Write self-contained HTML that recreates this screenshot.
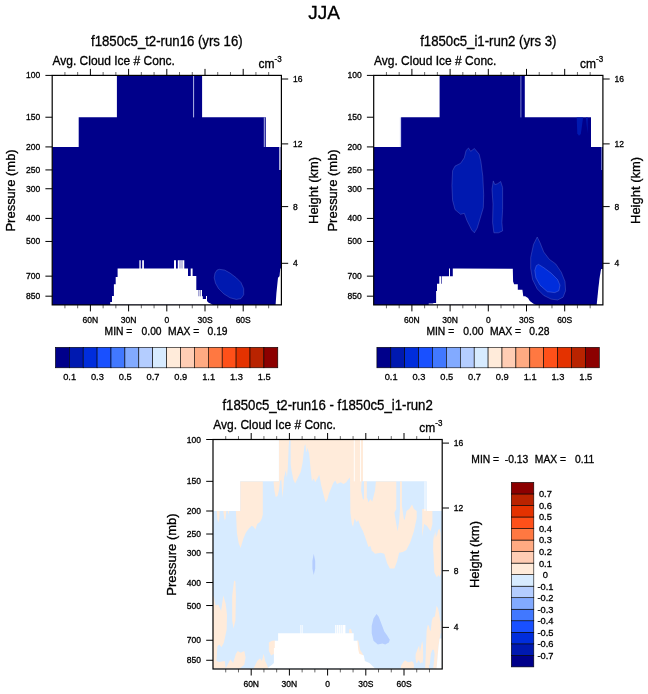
<!DOCTYPE html>
<html><head><meta charset="utf-8"><title>JJA</title>
<style>html,body{margin:0;padding:0;background:#fff}svg{display:block}text{font-family:"Liberation Sans",Arial,Helvetica,sans-serif;fill:#000;stroke:#000;stroke-width:0.3px}</style></head><body>
<svg width="648" height="694" viewBox="0 0 648 694">
<rect width="648" height="694" fill="#fff"/>
<text transform="translate(324.20 19.30)" font-size="19" text-anchor="middle">JJA</text>
<g shape-rendering="geometricPrecision">
<polygon points="116.9,75.4 202.1,75.4 202.1,117.2 265.8,117.2 265.8,146.9 281.4,146.9 281.4,304.9 52.2,304.9 52.2,146.9 78.7,146.9 78.7,117.2 116.9,117.2" fill="#00008a"/>
<polygon points="219.3,269.3 224.7,270.1 230.1,273.1 236.3,277.8 240.9,282.4 243.7,288.6 243.7,294.8 240.9,298.6 236.3,299.4 230.1,297.8 224.0,294.0 218.5,288.6 215.5,283.2 214.2,277.8 215.0,273.1 217.0,270.1" fill="#0019b0" stroke="#7f8fe0" stroke-width="0.3"/>
<polygon points="110.2,304.8 110.2,302.0 112.0,302.0 112.0,296.0 113.9,296.0 113.9,284.3 115.7,284.3 115.7,276.9 117.6,276.9 117.6,268.5 139.4,268.5 139.4,260.2 140.7,260.2 140.7,268.5 142.2,268.5 142.2,260.2 143.9,260.2 143.9,268.5 174.0,268.5 174.0,260.2 176.0,260.2 176.0,268.5 177.8,268.5 177.8,260.2 184.3,260.2 184.3,268.5 188.0,268.5 188.0,276.0 190.7,276.0 190.7,268.5 192.6,268.5 192.6,276.0 196.3,276.0 196.3,290.0 202.0,290.0 202.0,296.3 202.8,296.3 202.8,299.0 206.0,299.0 206.0,296.0 207.0,296.0 207.0,301.0 208.3,302.4 213.0,304.8" fill="#fff"/>
<polygon points="280.3,268.5 281.4,268.5 281.4,304.8 275.6,304.8 276.4,293.2 278.0,277.8 279.5,276.2" fill="#fff"/>
<path d="M193.6 75.4v42M264.3 117.4v29.6" stroke="#c4caf0" stroke-width="0.9"/>
<path d="M279.7 147v23M180 260.2v8.3M182 260.2v8.3M198.8 290v6.3M200.4 290v6.3" stroke="#00008a" stroke-width="0.5"/>
<path d="M279.95 147v23" stroke="#f6f7fd" stroke-width="1.3"/>
</g>
<rect x="52.2" y="75.4" width="229.2" height="229.5" fill="none" stroke="#000" stroke-width="1.2"/>
<path d="M64.93 75.40v-3.4M64.93 304.90v3.4M77.67 75.40v-3.4M77.67 304.90v3.4M103.13 75.40v-3.4M103.13 304.90v3.4M115.87 75.40v-3.4M115.87 304.90v3.4M141.33 75.40v-3.4M141.33 304.90v3.4M154.07 75.40v-3.4M154.07 304.90v3.4M179.53 75.40v-3.4M179.53 304.90v3.4M192.27 75.40v-3.4M192.27 304.90v3.4M217.73 75.40v-3.4M217.73 304.90v3.4M230.47 75.40v-3.4M230.47 304.90v3.4M255.93 75.40v-3.4M255.93 304.90v3.4M268.67 75.40v-3.4M268.67 304.90v3.4" stroke="#000" stroke-width="0.6" fill="none"/>
<path d="M90.40 75.40v-6.5M90.40 304.90v6.5M128.60 75.40v-6.5M128.60 304.90v6.5M166.80 75.40v-6.5M166.80 304.90v6.5M205.00 75.40v-6.5M205.00 304.90v6.5M243.20 75.40v-6.5M243.20 304.90v6.5M52.20 75.40h-6.8M52.20 117.23h-6.8M52.20 146.91h-6.8M52.20 169.93h-6.8M52.20 188.74h-6.8M52.20 218.42h-6.8M52.20 241.44h-6.8M52.20 276.15h-6.8M52.20 296.18h-6.8M281.40 79.00h6.8M281.40 143.90h6.8M281.40 206.60h6.8M281.40 263.30h6.8" stroke="#000" stroke-width="1" fill="none"/>
<text transform="translate(40.20 78.40)" font-size="8.5" text-anchor="end">100</text>
<text transform="translate(40.20 120.23)" font-size="8.5" text-anchor="end">150</text>
<text transform="translate(40.20 149.91)" font-size="8.5" text-anchor="end">200</text>
<text transform="translate(40.20 172.93)" font-size="8.5" text-anchor="end">250</text>
<text transform="translate(40.20 191.74)" font-size="8.5" text-anchor="end">300</text>
<text transform="translate(40.20 221.42)" font-size="8.5" text-anchor="end">400</text>
<text transform="translate(40.20 244.44)" font-size="8.5" text-anchor="end">500</text>
<text transform="translate(40.20 279.15)" font-size="8.5" text-anchor="end">700</text>
<text transform="translate(40.20 299.18)" font-size="8.5" text-anchor="end">850</text>
<text transform="translate(293.00 82.00)" font-size="8.5">16</text>
<text transform="translate(293.00 146.90)" font-size="8.5">12</text>
<text transform="translate(293.00 209.60)" font-size="8.5">8</text>
<text transform="translate(293.00 266.30)" font-size="8.5">4</text>
<text transform="translate(90.40 323.30)" font-size="8.5" text-anchor="middle">60N</text>
<text transform="translate(128.60 323.30)" font-size="8.5" text-anchor="middle">30N</text>
<text transform="translate(166.80 323.30)" font-size="8.5" text-anchor="middle">0</text>
<text transform="translate(205.00 323.30)" font-size="8.5" text-anchor="middle">30S</text>
<text transform="translate(243.20 323.30)" font-size="8.5" text-anchor="middle">60S</text>
<text transform="translate(52.50 65.10) scale(1 1.05)" font-size="12">Avg. Cloud Ice # Conc.</text>
<text transform="translate(258.50 67.80) scale(1 1.05)" font-size="12">cm<tspan font-size="8" dy="-5.5">-3</tspan></text>
<text transform="translate(166.80 45.70) scale(1 1.05)" font-size="13.2" text-anchor="middle">f1850c5_t2-run16 (yrs 16)</text>
<text transform="translate(15.20 190.45) rotate(-90) scale(1 1.05)" font-size="13" text-anchor="middle">Pressure (mb)</text>
<text transform="translate(318.20 190.45) rotate(-90) scale(1 1.05)" font-size="13" text-anchor="middle">Height (km)</text>
<text transform="translate(104.60 335.40)" font-size="10.3">MIN =</text>
<text transform="translate(161.60 335.40)" font-size="10.3" text-anchor="end">0.00</text>
<text transform="translate(168.10 335.40)" font-size="10.3">MAX =</text>
<text transform="translate(227.60 335.40)" font-size="10.3" text-anchor="end">0.19</text>
<rect x="55.40" y="347.3" width="13.90" height="20.5" fill="#00008a" stroke="#000" stroke-width="0.6"/>
<rect x="69.30" y="347.3" width="13.90" height="20.5" fill="#0019b0" stroke="#000" stroke-width="0.6"/>
<rect x="83.20" y="347.3" width="13.90" height="20.5" fill="#002ddc" stroke="#000" stroke-width="0.6"/>
<rect x="97.10" y="347.3" width="13.90" height="20.5" fill="#1950ff" stroke="#000" stroke-width="0.6"/>
<rect x="111.00" y="347.3" width="13.90" height="20.5" fill="#4178ff" stroke="#000" stroke-width="0.6"/>
<rect x="124.90" y="347.3" width="13.90" height="20.5" fill="#82aaff" stroke="#000" stroke-width="0.6"/>
<rect x="138.80" y="347.3" width="13.90" height="20.5" fill="#b4cdff" stroke="#000" stroke-width="0.6"/>
<rect x="152.70" y="347.3" width="13.90" height="20.5" fill="#d7ebff" stroke="#000" stroke-width="0.6"/>
<rect x="166.60" y="347.3" width="13.90" height="20.5" fill="#ffebda" stroke="#000" stroke-width="0.6"/>
<rect x="180.50" y="347.3" width="13.90" height="20.5" fill="#ffcdb4" stroke="#000" stroke-width="0.6"/>
<rect x="194.40" y="347.3" width="13.90" height="20.5" fill="#ffaa82" stroke="#000" stroke-width="0.6"/>
<rect x="208.30" y="347.3" width="13.90" height="20.5" fill="#ff7841" stroke="#000" stroke-width="0.6"/>
<rect x="222.20" y="347.3" width="13.90" height="20.5" fill="#ff5019" stroke="#000" stroke-width="0.6"/>
<rect x="236.10" y="347.3" width="13.90" height="20.5" fill="#e43200" stroke="#000" stroke-width="0.6"/>
<rect x="250.00" y="347.3" width="13.90" height="20.5" fill="#b92300" stroke="#000" stroke-width="0.6"/>
<rect x="263.90" y="347.3" width="13.90" height="20.5" fill="#8c0000" stroke="#000" stroke-width="0.6"/>
<text transform="translate(69.60 380.30) scale(0.95 1)" font-size="9.8" text-anchor="middle">0.1</text>
<text transform="translate(97.40 380.30) scale(0.95 1)" font-size="9.8" text-anchor="middle">0.3</text>
<text transform="translate(125.20 380.30) scale(0.95 1)" font-size="9.8" text-anchor="middle">0.5</text>
<text transform="translate(153.00 380.30) scale(0.95 1)" font-size="9.8" text-anchor="middle">0.7</text>
<text transform="translate(180.80 380.30) scale(0.95 1)" font-size="9.8" text-anchor="middle">0.9</text>
<text transform="translate(208.60 380.30) scale(0.95 1)" font-size="9.8" text-anchor="middle">1.1</text>
<text transform="translate(236.40 380.30) scale(0.95 1)" font-size="9.8" text-anchor="middle">1.3</text>
<text transform="translate(264.20 380.30) scale(0.95 1)" font-size="9.8" text-anchor="middle">1.5</text>
<g>
<polygon points="439.6,75.4 524.8,75.4 524.8,117.2 591.0,117.2 591.0,146.9 602.9,146.9 602.9,304.9 373.7,304.9 373.7,146.9 401.1,146.9 401.1,117.2 439.6,117.2" fill="#00008a"/>
<polygon points="468.5,148.0 470.7,151.3 474.4,148.5 479.1,154.1 480.9,161.5 482.8,176.3 483.7,194.8 483.3,207.8 480.0,218.9 477.2,228.1 474.4,232.8 471.7,230.0 467.0,220.7 464.3,213.3 460.6,214.3 455.0,209.6 452.6,200.4 451.9,185.6 452.6,170.7 455.0,166.1 460.6,163.3 464.3,157.8 466.1,150.4" fill="#0019b0" stroke="#7f8fe0" stroke-width="0.3"/>
<polygon points="493.3,180.9 494.8,184.6 497.6,183.7 500.7,181.5 502.6,187.4 502.6,209.6 501.9,222.6 502.6,230.9 498.5,232.8 493.9,232.8 492.6,222.6 493.0,204.1 492.0,189.3" fill="#0019b0" stroke="#7f8fe0" stroke-width="0.3"/>
<polygon points="537.2,237.0 540.0,242.6 543.7,251.9 549.3,259.3 555.7,263.9 561.3,272.2 565.0,281.5 565.6,290.7 563.1,297.2 557.6,300.0 551.1,299.1 543.7,295.4 537.2,288.9 532.6,279.6 530.7,268.5 530.7,257.4 533.5,244.4" fill="#0019b0" stroke="#7f8fe0" stroke-width="0.3"/>
<polygon points="538.5,264.4 543.7,267.6 551.1,273.1 557.6,279.6 560.0,285.2 558.9,290.7 554.8,292.6 547.4,291.7 540.0,285.2 535.9,277.8 534.8,270.4 536.3,265.7" fill="#002ddc" stroke="#8fa0f0" stroke-width="0.3"/>
<polygon points="576.7,117.4 583.1,117.4 580.8,134.0 579.0,135.8 577.3,133.5" fill="#0019b0"/>
<polygon points="586,117.4 587.7,117.4 587.5,133.5" fill="#0019b0"/>
<polygon points="428.7,304.8 428.7,303.5 433.3,303.5 433.3,303.0 436.1,303.0 436.1,291.0 437.0,291.0 437.0,283.7 439.3,283.7 439.3,276.3 441.1,276.3 441.1,283.7 441.7,283.7 441.7,276.3 449.0,276.3 449.0,268.5 450.0,268.5 450.0,276.3 452.8,276.3 452.8,268.5 512.8,268.7 513.1,281.5 514.1,284.3 517.8,284.3 517.8,289.8 522.4,289.8 523.3,296.3 525.2,296.3 528.0,298.1 529.8,300.9 533.5,303.7 536.0,304.8" fill="#fff"/>
<polygon points="601.1,268.9 603.2,268.9 603.2,304.8 596.7,304.8 598.3,288.9 599.6,277.8" fill="#fff"/>
<path d="M520.9 75v42.4M400.4 117.4v29.6" stroke="#aab4e6" stroke-width="0.7"/>
<path d="M601.6 147v23" stroke="#8c96d8" stroke-width="0.8"/>
</g>
<rect x="373.7" y="75.4" width="229.2" height="229.5" fill="none" stroke="#000" stroke-width="1.2"/>
<path d="M386.43 75.40v-3.4M386.43 304.90v3.4M399.17 75.40v-3.4M399.17 304.90v3.4M424.63 75.40v-3.4M424.63 304.90v3.4M437.37 75.40v-3.4M437.37 304.90v3.4M462.83 75.40v-3.4M462.83 304.90v3.4M475.57 75.40v-3.4M475.57 304.90v3.4M501.03 75.40v-3.4M501.03 304.90v3.4M513.77 75.40v-3.4M513.77 304.90v3.4M539.23 75.40v-3.4M539.23 304.90v3.4M551.97 75.40v-3.4M551.97 304.90v3.4M577.43 75.40v-3.4M577.43 304.90v3.4M590.17 75.40v-3.4M590.17 304.90v3.4" stroke="#000" stroke-width="0.6" fill="none"/>
<path d="M411.90 75.40v-6.5M411.90 304.90v6.5M450.10 75.40v-6.5M450.10 304.90v6.5M488.30 75.40v-6.5M488.30 304.90v6.5M526.50 75.40v-6.5M526.50 304.90v6.5M564.70 75.40v-6.5M564.70 304.90v6.5M373.70 75.40h-6.8M373.70 117.23h-6.8M373.70 146.91h-6.8M373.70 169.93h-6.8M373.70 188.74h-6.8M373.70 218.42h-6.8M373.70 241.44h-6.8M373.70 276.15h-6.8M373.70 296.18h-6.8M602.90 79.00h6.8M602.90 143.90h6.8M602.90 206.60h6.8M602.90 263.30h6.8" stroke="#000" stroke-width="1" fill="none"/>
<text transform="translate(361.70 78.40)" font-size="8.5" text-anchor="end">100</text>
<text transform="translate(361.70 120.23)" font-size="8.5" text-anchor="end">150</text>
<text transform="translate(361.70 149.91)" font-size="8.5" text-anchor="end">200</text>
<text transform="translate(361.70 172.93)" font-size="8.5" text-anchor="end">250</text>
<text transform="translate(361.70 191.74)" font-size="8.5" text-anchor="end">300</text>
<text transform="translate(361.70 221.42)" font-size="8.5" text-anchor="end">400</text>
<text transform="translate(361.70 244.44)" font-size="8.5" text-anchor="end">500</text>
<text transform="translate(361.70 279.15)" font-size="8.5" text-anchor="end">700</text>
<text transform="translate(361.70 299.18)" font-size="8.5" text-anchor="end">850</text>
<text transform="translate(614.50 82.00)" font-size="8.5">16</text>
<text transform="translate(614.50 146.90)" font-size="8.5">12</text>
<text transform="translate(614.50 209.60)" font-size="8.5">8</text>
<text transform="translate(614.50 266.30)" font-size="8.5">4</text>
<text transform="translate(411.90 323.30)" font-size="8.5" text-anchor="middle">60N</text>
<text transform="translate(450.10 323.30)" font-size="8.5" text-anchor="middle">30N</text>
<text transform="translate(488.30 323.30)" font-size="8.5" text-anchor="middle">0</text>
<text transform="translate(526.50 323.30)" font-size="8.5" text-anchor="middle">30S</text>
<text transform="translate(564.70 323.30)" font-size="8.5" text-anchor="middle">60S</text>
<text transform="translate(374.00 65.10) scale(1 1.05)" font-size="12">Avg. Cloud Ice # Conc.</text>
<text transform="translate(580.00 67.80) scale(1 1.05)" font-size="12">cm<tspan font-size="8" dy="-5.5">-3</tspan></text>
<text transform="translate(488.30 45.70) scale(1 1.05)" font-size="13.2" text-anchor="middle">f1850c5_i1-run2 (yrs 3)</text>
<text transform="translate(336.70 190.45) rotate(-90) scale(1 1.05)" font-size="13" text-anchor="middle">Pressure (mb)</text>
<text transform="translate(639.70 190.45) rotate(-90) scale(1 1.05)" font-size="13" text-anchor="middle">Height (km)</text>
<text transform="translate(426.40 335.40)" font-size="10.3">MIN =</text>
<text transform="translate(483.40 335.40)" font-size="10.3" text-anchor="end">0.00</text>
<text transform="translate(489.90 335.40)" font-size="10.3">MAX =</text>
<text transform="translate(549.40 335.40)" font-size="10.3" text-anchor="end">0.28</text>
<rect x="376.90" y="347.3" width="13.90" height="20.5" fill="#00008a" stroke="#000" stroke-width="0.6"/>
<rect x="390.80" y="347.3" width="13.90" height="20.5" fill="#0019b0" stroke="#000" stroke-width="0.6"/>
<rect x="404.70" y="347.3" width="13.90" height="20.5" fill="#002ddc" stroke="#000" stroke-width="0.6"/>
<rect x="418.60" y="347.3" width="13.90" height="20.5" fill="#1950ff" stroke="#000" stroke-width="0.6"/>
<rect x="432.50" y="347.3" width="13.90" height="20.5" fill="#4178ff" stroke="#000" stroke-width="0.6"/>
<rect x="446.40" y="347.3" width="13.90" height="20.5" fill="#82aaff" stroke="#000" stroke-width="0.6"/>
<rect x="460.30" y="347.3" width="13.90" height="20.5" fill="#b4cdff" stroke="#000" stroke-width="0.6"/>
<rect x="474.20" y="347.3" width="13.90" height="20.5" fill="#d7ebff" stroke="#000" stroke-width="0.6"/>
<rect x="488.10" y="347.3" width="13.90" height="20.5" fill="#ffebda" stroke="#000" stroke-width="0.6"/>
<rect x="502.00" y="347.3" width="13.90" height="20.5" fill="#ffcdb4" stroke="#000" stroke-width="0.6"/>
<rect x="515.90" y="347.3" width="13.90" height="20.5" fill="#ffaa82" stroke="#000" stroke-width="0.6"/>
<rect x="529.80" y="347.3" width="13.90" height="20.5" fill="#ff7841" stroke="#000" stroke-width="0.6"/>
<rect x="543.70" y="347.3" width="13.90" height="20.5" fill="#ff5019" stroke="#000" stroke-width="0.6"/>
<rect x="557.60" y="347.3" width="13.90" height="20.5" fill="#e43200" stroke="#000" stroke-width="0.6"/>
<rect x="571.50" y="347.3" width="13.90" height="20.5" fill="#b92300" stroke="#000" stroke-width="0.6"/>
<rect x="585.40" y="347.3" width="13.90" height="20.5" fill="#8c0000" stroke="#000" stroke-width="0.6"/>
<text transform="translate(391.10 380.30) scale(0.95 1)" font-size="9.8" text-anchor="middle">0.1</text>
<text transform="translate(418.90 380.30) scale(0.95 1)" font-size="9.8" text-anchor="middle">0.3</text>
<text transform="translate(446.70 380.30) scale(0.95 1)" font-size="9.8" text-anchor="middle">0.5</text>
<text transform="translate(474.50 380.30) scale(0.95 1)" font-size="9.8" text-anchor="middle">0.7</text>
<text transform="translate(502.30 380.30) scale(0.95 1)" font-size="9.8" text-anchor="middle">0.9</text>
<text transform="translate(530.10 380.30) scale(0.95 1)" font-size="9.8" text-anchor="middle">1.1</text>
<text transform="translate(557.90 380.30) scale(0.95 1)" font-size="9.8" text-anchor="middle">1.3</text>
<text transform="translate(585.70 380.30) scale(0.95 1)" font-size="9.8" text-anchor="middle">1.5</text>
<g>
<polygon points="278.9,439.5 363.0,439.5 363.0,481.3 426.6,481.3 426.6,511.0 442.2,511.0 442.2,669.0 213.0,669.0 213.0,511.0 240.2,511.0 240.2,481.3 278.9,481.3" fill="#d7ebff"/>
<clipPath id="c3"><polygon points="278.9,439.5 363.0,439.5 363.0,481.3 426.6,481.3 426.6,511.0 442.2,511.0 442.2,669.0 213.0,669.0 213.0,511.0 240.2,511.0 240.2,481.3 278.9,481.3"/></clipPath>
<g clip-path="url(#c3)">
<polygon points="235.9,510.9 240.2,510.9 240.2,481.3 262.8,481.3 262.8,514.6 261.9,518.3 260.0,522.0 257.2,523.9 255.4,529.4 253.5,526.7 251.7,525.7 248.9,528.5 246.1,532.2 243.3,538.7 240.6,548.0 238.7,543.3 236.9,533.1" fill="#ffebda"/>
<polygon points="216.7,510.9 219.6,510.9 219.3,518.3 218.3,522.4 217.4,519.3" fill="#ffebda"/>
<polygon points="223.3,510.9 226.3,510.9 225.6,518.3 224.8,520.6 224.1,517.4" fill="#ffebda"/>
<polygon points="227.8,510.9 229.1,510.9 228.5,515.0" fill="#ffebda"/>
<polygon points="278.9,438.7 278.9,481.3 273.5,481.3 274.4,490.6 275.7,497.0 277.6,496.1 278.9,490.6 280.0,481.3 281.3,479.4 282.0,490.6 282.6,498.0 283.3,488.7 284.1,477.6 285.9,470.2 286.9,477.6 287.8,468.3 288.7,446.1 289.3,440.2 290.6,440.2 290.7,464.6 291.5,470.2 293.3,479.4 295.2,483.5 297.0,479.4 300.7,472.0 302.6,462.8 304.4,446.1 305.4,444.3 306.3,452.6 307.6,448.0 309.1,453.5 310.9,472.0 311.9,481.3 313.7,478.5 315.2,482.2 317.4,478.5 319.3,474.8 321.1,485.0 323.9,496.1 325.7,502.6 327.6,498.9 328.7,494.3 333.3,483.1 335.2,480.4 337.0,484.1 340.7,482.2 343.5,484.1 346.3,482.2 348.1,479.4 350.0,477.6 350.4,512.8 351.9,523.9 353.1,526.7 354.6,518.3 356.5,522.0 358.3,520.2 360.2,525.7 363.0,531.3 365.7,538.7 368.5,547.0 370.4,546.1 372.2,551.7 373.5,555.0 371.3,550.0 375.0,553.7 380.6,552.8 384.3,553.7 387.0,563.0 389.8,568.5 394.4,568.5 397.2,561.1 399.1,552.8 402.8,551.9 406.5,550.0 406.5,549.8 410.2,542.4 413.9,531.3 416.7,518.3 416.7,510.9 413.9,509.1 412.0,504.4 409.3,509.1 406.5,510.9 404.6,520.2 403.7,518.3 401.9,505.4 401.9,481.3 400.0,481.3 400.0,509.1 399.1,522.0 397.6,531.3 396.3,523.9 394.4,512.8 396.3,509.1 396.3,481.3 375.9,481.3 375.0,490.6 372.2,501.7 370.4,498.9 368.5,502.6 367.2,498.0 364.8,498.0 363.0,499.8 361.1,490.6 361.7,481.3 363.0,481.3 363.0,438.7" fill="#ffebda"/>
<polygon points="364.0,481 366.8,481 366.8,501 364.0,501" fill="#ffebda"/>
<polygon points="422.2,509.1 422.2,536.9 424.1,523.9 426.9,525.7 430.6,531.3 432.4,523.9 432.4,510.9 426.5,510.9 426.5,509.1" fill="#ffebda"/>
<polygon points="433.0,555.0 433.3,540.6 434.3,533.1 435.0,538.7 435.7,531.3 436.7,536.9 438.0,530.4 439.4,528.5 440.6,533.1 440.9,555.0 440.9,550.0 440.9,574.1 439.4,576.9 438.3,575.0 437.0,577.4 435.7,575.0 434.3,572.2 433.3,550.0" fill="#ffebda"/>
<polygon points="436.5,605.7 438.0,608.3 439.1,613.5 440.1,620.7 440.6,633.2 439.6,638.4 438.6,645.6 437.5,658.1 436.5,668.5 433.2,668.5 433.9,662.2 434.6,653.9 433.9,649.8 432.3,649.8 430.8,653.9 429.8,664.3 429.6,665.1 428.8,665.1 429.2,668.5 425.1,668.5 425.6,658.1 426.1,643.6 426.6,631.1 427.7,624.9 428.7,625.4 429.8,630.1 430.8,631.1 431.8,620.7 432.9,617.6 434.9,616.6 436.0,609.3" fill="#ffebda"/>
<polygon points="415.7,653.9 417.3,649.8 419.1,645.6 419.9,651.9 420.9,646.7 422.2,641.0 423.0,645.6 423.2,658.1 422.5,663.3 421.5,662.2 420.4,663.8 419.4,661.2 418.3,660.2 417.3,662.8 416.3,663.3 415.5,658.1" fill="#ffebda"/>
<polygon points="400.7,668.5 401.2,665.4 403.3,662.2 405.1,660.2 406.4,661.2 408.0,662.2 410.0,662.0 411.6,661.2 413.2,662.2 413.9,664.3 413.9,668.5" fill="#ffebda"/>
<path d="M441 621v12" stroke="#ffebda" stroke-width="0.8"/>
<polygon points="376.5,613.9 373.5,618.5 371.7,625.9 371.7,633.3 373.5,640.7 377.8,644.4 382.4,643.5 385.2,644.4 388.9,642.6 389.8,639.8 387.0,635.2 384.3,631.5 381.5,624.1 378.7,616.7" fill="#b4cdff"/>
<polygon points="313.7,553.7 312.4,561.1 312.4,568.5 313.7,575.0 315.2,568.5 315.2,561.1" fill="#b4cdff"/>
<polygon points="211.9,596.3 213.7,596.3 215.6,605.6 218.3,604.6 221.1,611.1 223.3,595.4 225.7,603.7 227.0,614.8 226.7,629.6 223.9,642.6 221.5,647.2 219.3,644.4 217.4,646.3 216.5,661.1 219.3,662.0 224.8,661.1 225.7,668.5 211.9,668.5" fill="#ffebda"/>
<polygon points="234.1,580.6 232.2,596.3 232.2,620.4 233.5,628.7 235.4,620.4 235.9,596.3 235.4,581.5" fill="#ffebda"/>
<polygon points="225.7,668.5 230.4,659.3 233.1,663.0 235.9,653.7 237.8,650.9 240.6,652.8 244.3,650.9 245.6,657.4 244.3,664.8 239.6,668.5" fill="#ffebda"/>
<polygon points="253.5,668.5 257.2,661.1 260.0,658.3 261.9,661.1 263.7,653.7 265.2,661.1 267.4,665.7 268.3,668.5" fill="#ffebda"/>
<polygon points="268.9,642.6 272.0,640.7 275.2,640.4 275.2,648.1 274.3,653.7 271.1,655.6 268.9,650.9" fill="#ffebda"/>
<polygon points="349.1,629.6 350.9,628.7 352.2,633.3 349.1,633.3" fill="#ffebda"/>
<polygon points="356.9,640.4 358.3,640.4 360.2,650.0 363.0,654.6 364.8,661.1 357.4,661.1" fill="#ffebda"/>
</g>
<polygon points="268.3,668.5 268.3,667.6 272.0,664.8 273.9,663.0 273.9,648.1 274.8,648.1 274.8,640.7 278.1,640.7 278.1,633.3 300.4,633.3 300.4,625.0 301.3,625.0 301.3,633.3 301.9,633.3 301.9,625.0 302.6,625.0 302.6,633.3 330.0,633.3 330.0,633.3 335.2,633.3 335.2,625.0 345.4,625.0 345.4,633.3 353.7,633.3 353.7,640.7 357.4,640.7 358.3,650.0 359.3,653.7 363.9,655.6 364.8,661.1 369.4,663.0 374.1,667.6 375.0,668.5" fill="#fff"/>
<polygon points="439.6,638.4 441.9,638.4 441.9,669.0 436.5,669.0 437.5,658.1 438.6,645.6" fill="#fff"/>
<path d="M336.6 625v8.3M338.4 625v8.3M340.3 625v8.3M342.2 625v8.3" stroke="#d7ebff" stroke-width="0.6"/>
<path d="M354.3 439v42.4M360.5 439v42.4M425 481.4v29.6" stroke="#fff" stroke-width="0.9"/>
</g>
<rect x="213.0" y="439.5" width="229.2" height="229.5" fill="none" stroke="#000" stroke-width="1.2"/>
<path d="M225.73 439.50v-3.4M225.73 669.00v3.4M238.47 439.50v-3.4M238.47 669.00v3.4M263.93 439.50v-3.4M263.93 669.00v3.4M276.67 439.50v-3.4M276.67 669.00v3.4M302.13 439.50v-3.4M302.13 669.00v3.4M314.87 439.50v-3.4M314.87 669.00v3.4M340.33 439.50v-3.4M340.33 669.00v3.4M353.07 439.50v-3.4M353.07 669.00v3.4M378.53 439.50v-3.4M378.53 669.00v3.4M391.27 439.50v-3.4M391.27 669.00v3.4M416.73 439.50v-3.4M416.73 669.00v3.4M429.47 439.50v-3.4M429.47 669.00v3.4" stroke="#000" stroke-width="0.6" fill="none"/>
<path d="M251.20 439.50v-6.5M251.20 669.00v6.5M289.40 439.50v-6.5M289.40 669.00v6.5M327.60 439.50v-6.5M327.60 669.00v6.5M365.80 439.50v-6.5M365.80 669.00v6.5M404.00 439.50v-6.5M404.00 669.00v6.5M213.00 439.50h-6.8M213.00 481.33h-6.8M213.00 511.01h-6.8M213.00 534.03h-6.8M213.00 552.84h-6.8M213.00 582.52h-6.8M213.00 605.54h-6.8M213.00 640.25h-6.8M213.00 660.28h-6.8M442.20 443.10h6.8M442.20 508.00h6.8M442.20 570.70h6.8M442.20 627.40h6.8" stroke="#000" stroke-width="1" fill="none"/>
<text transform="translate(201.00 442.50)" font-size="8.5" text-anchor="end">100</text>
<text transform="translate(201.00 484.33)" font-size="8.5" text-anchor="end">150</text>
<text transform="translate(201.00 514.01)" font-size="8.5" text-anchor="end">200</text>
<text transform="translate(201.00 537.03)" font-size="8.5" text-anchor="end">250</text>
<text transform="translate(201.00 555.84)" font-size="8.5" text-anchor="end">300</text>
<text transform="translate(201.00 585.52)" font-size="8.5" text-anchor="end">400</text>
<text transform="translate(201.00 608.54)" font-size="8.5" text-anchor="end">500</text>
<text transform="translate(201.00 643.25)" font-size="8.5" text-anchor="end">700</text>
<text transform="translate(201.00 663.28)" font-size="8.5" text-anchor="end">850</text>
<text transform="translate(453.80 446.10)" font-size="8.5">16</text>
<text transform="translate(453.80 511.00)" font-size="8.5">12</text>
<text transform="translate(453.80 573.70)" font-size="8.5">8</text>
<text transform="translate(453.80 630.40)" font-size="8.5">4</text>
<text transform="translate(251.20 687.40)" font-size="8.5" text-anchor="middle">60N</text>
<text transform="translate(289.40 687.40)" font-size="8.5" text-anchor="middle">30N</text>
<text transform="translate(327.60 687.40)" font-size="8.5" text-anchor="middle">0</text>
<text transform="translate(365.80 687.40)" font-size="8.5" text-anchor="middle">30S</text>
<text transform="translate(404.00 687.40)" font-size="8.5" text-anchor="middle">60S</text>
<text transform="translate(213.30 429.20) scale(1 1.05)" font-size="12">Avg. Cloud Ice # Conc.</text>
<text transform="translate(419.30 431.90) scale(1 1.05)" font-size="12">cm<tspan font-size="8" dy="-5.5">-3</tspan></text>
<text transform="translate(327.60 409.80) scale(1 1.05)" font-size="13.2" text-anchor="middle">f1850c5_t2-run16 - f1850c5_i1-run2</text>
<text transform="translate(176.00 554.55) rotate(-90) scale(1 1.05)" font-size="13" text-anchor="middle">Pressure (mb)</text>
<text transform="translate(479.00 554.55) rotate(-90) scale(1 1.05)" font-size="13" text-anchor="middle">Height (km)</text>
<text transform="translate(471.30 462.70)" font-size="10.3">MIN =</text>
<text transform="translate(528.30 462.70)" font-size="10.3" text-anchor="end">-0.13</text>
<text transform="translate(534.80 462.70)" font-size="10.3">MAX =</text>
<text transform="translate(594.30 462.70)" font-size="10.3" text-anchor="end">0.11</text>
<rect x="511.3" y="655.37" width="22.5" height="11.53" fill="#00008a" stroke="#000" stroke-width="0.6"/>
<rect x="511.3" y="643.84" width="22.5" height="11.53" fill="#0019b0" stroke="#000" stroke-width="0.6"/>
<rect x="511.3" y="632.31" width="22.5" height="11.53" fill="#002ddc" stroke="#000" stroke-width="0.6"/>
<rect x="511.3" y="620.77" width="22.5" height="11.53" fill="#1950ff" stroke="#000" stroke-width="0.6"/>
<rect x="511.3" y="609.24" width="22.5" height="11.53" fill="#4178ff" stroke="#000" stroke-width="0.6"/>
<rect x="511.3" y="597.71" width="22.5" height="11.53" fill="#82aaff" stroke="#000" stroke-width="0.6"/>
<rect x="511.3" y="586.18" width="22.5" height="11.53" fill="#b4cdff" stroke="#000" stroke-width="0.6"/>
<rect x="511.3" y="574.65" width="22.5" height="11.53" fill="#d7ebff" stroke="#000" stroke-width="0.6"/>
<rect x="511.3" y="563.12" width="22.5" height="11.53" fill="#ffebda" stroke="#000" stroke-width="0.6"/>
<rect x="511.3" y="551.59" width="22.5" height="11.53" fill="#ffcdb4" stroke="#000" stroke-width="0.6"/>
<rect x="511.3" y="540.06" width="22.5" height="11.53" fill="#ffaa82" stroke="#000" stroke-width="0.6"/>
<rect x="511.3" y="528.52" width="22.5" height="11.53" fill="#ff7841" stroke="#000" stroke-width="0.6"/>
<rect x="511.3" y="516.99" width="22.5" height="11.53" fill="#ff5019" stroke="#000" stroke-width="0.6"/>
<rect x="511.3" y="505.46" width="22.5" height="11.53" fill="#e43200" stroke="#000" stroke-width="0.6"/>
<rect x="511.3" y="493.93" width="22.5" height="11.53" fill="#b92300" stroke="#000" stroke-width="0.6"/>
<rect x="511.3" y="482.40" width="22.5" height="11.53" fill="#8c0000" stroke="#000" stroke-width="0.6"/>
<text transform="translate(545.40 658.77) scale(0.95 1)" font-size="9.8" text-anchor="middle">-0.7</text>
<text transform="translate(545.40 647.24) scale(0.95 1)" font-size="9.8" text-anchor="middle">-0.6</text>
<text transform="translate(545.40 635.71) scale(0.95 1)" font-size="9.8" text-anchor="middle">-0.5</text>
<text transform="translate(545.40 624.17) scale(0.95 1)" font-size="9.8" text-anchor="middle">-0.4</text>
<text transform="translate(545.40 612.64) scale(0.95 1)" font-size="9.8" text-anchor="middle">-0.3</text>
<text transform="translate(545.40 601.11) scale(0.95 1)" font-size="9.8" text-anchor="middle">-0.2</text>
<text transform="translate(545.40 589.58) scale(0.95 1)" font-size="9.8" text-anchor="middle">-0.1</text>
<text transform="translate(545.40 578.05) scale(0.95 1)" font-size="9.8" text-anchor="middle">0</text>
<text transform="translate(545.40 566.52) scale(0.95 1)" font-size="9.8" text-anchor="middle">0.1</text>
<text transform="translate(545.40 554.99) scale(0.95 1)" font-size="9.8" text-anchor="middle">0.2</text>
<text transform="translate(545.40 543.46) scale(0.95 1)" font-size="9.8" text-anchor="middle">0.3</text>
<text transform="translate(545.40 531.92) scale(0.95 1)" font-size="9.8" text-anchor="middle">0.4</text>
<text transform="translate(545.40 520.39) scale(0.95 1)" font-size="9.8" text-anchor="middle">0.5</text>
<text transform="translate(545.40 508.86) scale(0.95 1)" font-size="9.8" text-anchor="middle">0.6</text>
<text transform="translate(545.40 497.33) scale(0.95 1)" font-size="9.8" text-anchor="middle">0.7</text>
</svg></body></html>
